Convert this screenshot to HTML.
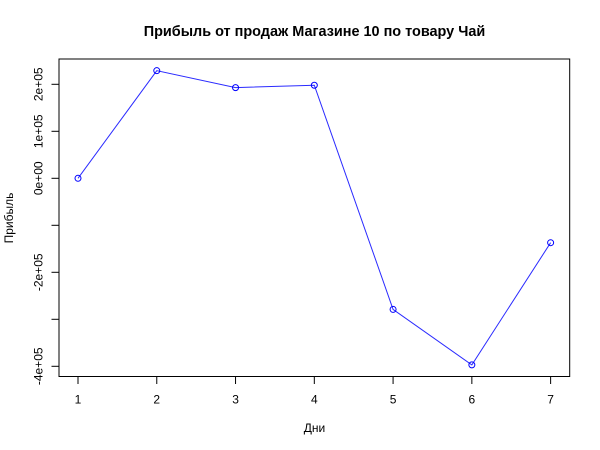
<!DOCTYPE html>
<html>
<head>
<meta charset="utf-8">
<style>
html,body{margin:0;padding:0;background:#fff}
svg{display:block}
text{font-family:"Liberation Sans",Arial,sans-serif;fill:#000}
</style>
</head>
<body>
<svg id="chart" width="600" height="450" viewBox="0 0 600 450" xmlns="http://www.w3.org/2000/svg">
<rect width="600" height="450" fill="#fff"/>
<text x="314.5" y="36" font-size="14.45" font-weight="bold" text-anchor="middle">Прибыль от продаж Магазине 10 по товару Чай</text>
<text x="314.5" y="432" font-size="12" text-anchor="middle">Дни</text>
<text x="13" y="218" font-size="12" text-anchor="middle" transform="rotate(-90 13 218)">Прибыль</text>
<rect x="59" y="59" width="510.7" height="317.5" fill="none" stroke="#000" stroke-width="1"/>
<g id="axes"></g>
<g id="series"></g>
</svg>
<script>
const days = [1, 2, 3, 4, 5, 6, 7];
const profit = [0, 229000, 193000, 198000, -279000, -397000, -137000];
const yTicks = [-400000, -300000, -200000, -100000, 0, 100000, 200000];
const yTickLabels = ['-4e+05', '', '-2e+05', '', '0e+00', '1e+05', '2e+05'];

const NS = 'http://www.w3.org/2000/svg';
const xScale = d => 78 + (d - 1) * 78.77;
const yScale = v => 178.3 - v * 47 / 100000;
const axes = document.getElementById('axes');
const series = document.getElementById('series');

function make(tag, attrs, parent) {
  const el = document.createElementNS(NS, tag);
  for (const k in attrs) el.setAttribute(k, attrs[k]);
  parent.appendChild(el);
  return el;
}

const xAxisLine = make('line', {x1: xScale(days[0]), x2: xScale(days[days.length - 1]), y1: 376.5, y2: 376.5, stroke: '#000', 'stroke-width': 1}, axes);



days.forEach(d => {
  const tick = make('line', {x1: xScale(d), x2: xScale(d), y1: 376.5, y2: 384, stroke: '#000', 'stroke-width': 1}, axes);
  
  
  const label = make('text', {x: xScale(d), y: 403.5, 'font-size': 12, 'text-anchor': 'middle'}, axes);
  
  
  label.textContent = d;
});

const yAxisLine = make('line', {x1: 59, x2: 59, y1: yScale(yTicks[0]), y2: yScale(yTicks[yTicks.length - 1]), stroke: '#000', 'stroke-width': 1}, axes);



yTicks.forEach((v, i) => {
  const tick = make('line', {x1: 51.5, x2: 59, y1: yScale(v), y2: yScale(v), stroke: '#000', 'stroke-width': 1}, axes);
  
  
  if (yTickLabels[i]) {
    const label = make('text', {x: 42.5, y: yScale(v), 'font-size': 12, 'text-anchor': 'middle', transform: 'rotate(-90 42.5 ' + yScale(v) + ')'}, axes);
    
    
    label.textContent = yTickLabels[i];
  }
});

const line = make('polyline', {points: days.map((d, i) => xScale(d) + ',' + yScale(profit[i])).join(' '), fill: 'none', stroke: '#2a2aff', 'stroke-width': 1}, series);



days.forEach((d, i) => {
  const pt = make('circle', {cx: xScale(d), cy: yScale(profit[i]), r: 3, fill: 'none', stroke: '#0000ff', 'stroke-width': 1}, series);
  
  
});
</script>
</body>
</html>
